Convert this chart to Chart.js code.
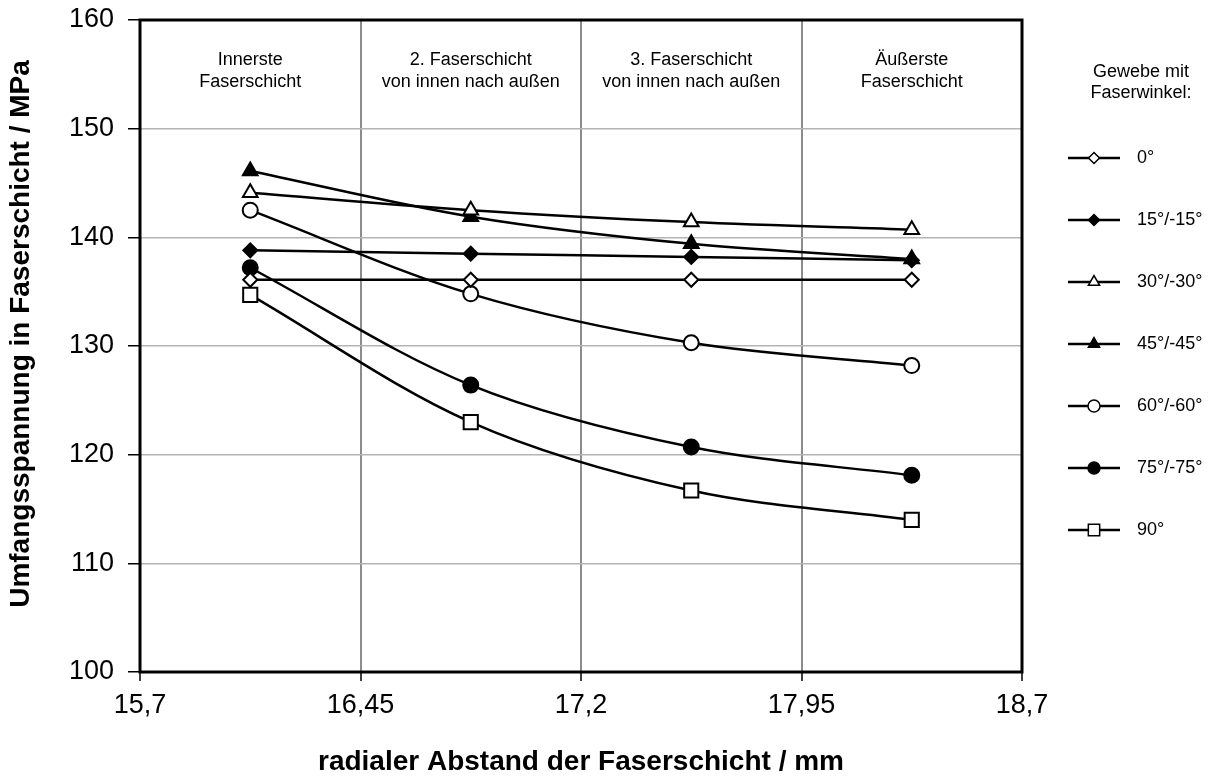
<!DOCTYPE html>
<html>
<head>
<meta charset="utf-8">
<script src="https://cdn.jsdelivr.net/npm/chart.js@4.4.1/dist/chart.umd.min.js"></script>
<style>
  body { margin: 0; background: #fff; }
  #wrap { width: 1209px; height: 778px; }
</style>
</head>
<body>
<div id="wrap"><canvas id="readings" width="1209" height="778"></canvas></div>
<script>
const ctx = 'readings';

// radial positions of the four fibre layers (mm)
const xValues = [16.075, 16.825, 17.575, 18.325];
const xTicks = [15.7, 16.45, 17.2, 17.95, 18.7];
const xTickLabels = ['15,7', '16,45', '17,2', '17,95', '18,7'];

const bandLabels = [
    ['Innerste', 'Faserschicht'],
    ['2. Faserschicht', 'von innen nach außen'],
    ['3. Faserschicht', 'von innen nach außen'],
    ['Äußerste', 'Faserschicht']
];

const seriesNames = ['0°', '15°/-15°', '30°/-30°', '45°/-45°', '60°/-60°', '75°/-75°', '90°'];

// hoop stress (MPa)
const s0 = [136.1, 136.1, 136.1, 136.1];
const s15 = [138.8, 138.5, 138.2, 137.9];
const s30 = [144.1, 142.5, 141.4, 140.7];
const s45 = [146.1, 141.9, 139.4, 138.0];
const s60 = [142.5, 134.8, 130.3, 128.2];
const s75 = [137.2, 126.4, 120.7, 118.1];
const s90 = [134.7, 123.0, 116.7, 114.0];

const FONT = '"Liberation Sans", Arial, sans-serif';
Chart.defaults.font.family = FONT;
Chart.defaults.color = '#000';

const styles = [
    { ps: 'rectRot', r: 7, lr: 5.5, fill: '#fff' },
    { ps: 'rectRot', r: 7, lr: 5.5, fill: '#000' },
    { ps: 'triangle', r: 8.5, lr: 6.5, fill: '#fff' },
    { ps: 'triangle', r: 8.5, lr: 6.5, fill: '#000' },
    { ps: 'circle', r: 7.5, lr: 6, fill: '#fff' },
    { ps: 'circle', r: 7.5, lr: 6, fill: '#000' },
    { ps: 'rect', r: 10, lr: 8, fill: '#fff' }
];

const allSeries = [s0, s15, s30, s45, s60, s75, s90];

const datasets = allSeries.map((s, k) => ({
    label: seriesNames[k],
    data: xValues.map((x, i) => ({ x: x, y: s[i] })),
    borderColor: '#000',
    borderWidth: 2.5,
    tension: 0.33,
    pointStyle: styles[k].ps,
    pointRadius: styles[k].r,
    pointBackgroundColor: styles[k].fill,
    pointBorderColor: '#000',
    pointBorderWidth: 2
}));

const extras = {
    id: 'extras',
    beforeDatasetsDraw(chart) {
        const c = chart.ctx, a = chart.chartArea;
        c.save();
        c.strokeStyle = '#000';
        c.lineWidth = 3;
        c.strokeRect(a.left, a.top, a.right - a.left, a.bottom - a.top);
        // band labels
        const xs = chart.scales.x;
        c.font = '18px ' + FONT;
        c.fillStyle = '#000';
        c.textAlign = 'center';
        c.textBaseline = 'middle';
        bandLabels.forEach((lines, i) => {
            const px = xs.getPixelForValue(xValues[i]);
            c.fillText(lines[0], px, 60);
            c.fillText(lines[1], px, 82);
        });
        c.restore();
    },
    afterDraw(chart) {
        const c = chart.ctx, a = chart.chartArea;
        c.save();
        c.fillStyle = '#000';
        c.textAlign = 'center';
        c.textBaseline = 'middle';
        // axis titles
        c.font = 'bold 28px ' + FONT;
        c.fillText('radialer Abstand der Faserschicht / mm', (a.left + a.right) / 2, 762);
        c.save();
        c.translate(21, 334);
        c.rotate(-Math.PI / 2);
        c.fillText('Umfangsspannung in Faserschicht / MPa', 0, 0);
        c.restore();
        // legend
        c.font = '18px ' + FONT;
        c.fillText('Gewebe mit', 1141, 72);
        c.fillText('Faserwinkel:', 1141, 93);
        c.textAlign = 'left';
        styles.forEach((st, k) => {
            const y = 158 + k * 62;
            c.strokeStyle = '#000';
            c.lineWidth = 2.5;
            c.beginPath();
            c.moveTo(1068, y);
            c.lineTo(1120, y);
            c.stroke();
            c.fillStyle = st.fill;
            c.lineWidth = 1.5;
            Chart.helpers.drawPoint(c, { pointStyle: st.ps, radius: st.lr, rotation: 0, borderWidth: 1.5 }, 1094, y);
            c.fillStyle = '#000';
            c.fillText(seriesNames[k], 1137, y);
        });
        c.restore();
    }
};

const chart = new Chart(ctx, {
    type: 'line',
    data: { datasets: datasets },
    options: {
        responsive: false,
        animation: false,
        layout: { padding: { left: 0, top: 20, right: 187, bottom: 0 } },
        plugins: { legend: { display: false }, tooltip: { enabled: false } },
        scales: {
            x: {
                type: 'linear',
                min: 15.7,
                max: 18.7,
                afterBuildTicks: (scale) => { scale.ticks = xTicks.map(v => ({ value: v })); },
                afterFit: (scale) => {
                    scale.height = 106;
                    scale.paddingLeft = 0;
                    scale.paddingRight = 0;
                },
                ticks: {
                    font: { size: 27 },
                    padding: 8,
                    maxRotation: 0,
                    autoSkip: false,
                    callback: (v, i) => xTickLabels[i]
                },
                border: { display: false },
                grid: {
                    color: (c) => (c.tick && (c.tick.value === 15.7 || c.tick.value === 18.7)) ? 'rgba(0,0,0,0)' : '#8c8c8c',
                    lineWidth: 2,
                    tickColor: '#000',
                    tickLength: 9,
                    tickWidth: 1.5
                }
            },
            y: {
                min: 100,
                max: 160,
                ticks: { stepSize: 10, font: { size: 27 }, padding: 14 },
                afterFit: (scale) => {
                    scale.width = 140;
                    scale.paddingTop = 0;
                    scale.paddingBottom = 0;
                },
                border: { display: false },
                grid: {
                    color: (c) => (c.tick && (c.tick.value === 100 || c.tick.value === 160)) ? 'rgba(0,0,0,0)' : '#b4b4b4',
                    lineWidth: 1.5,
                    tickColor: '#000',
                    tickLength: 12,
                    tickWidth: 1.5
                }
            }
        }
    },
    plugins: [extras]
});
</script>
</body>
</html>
